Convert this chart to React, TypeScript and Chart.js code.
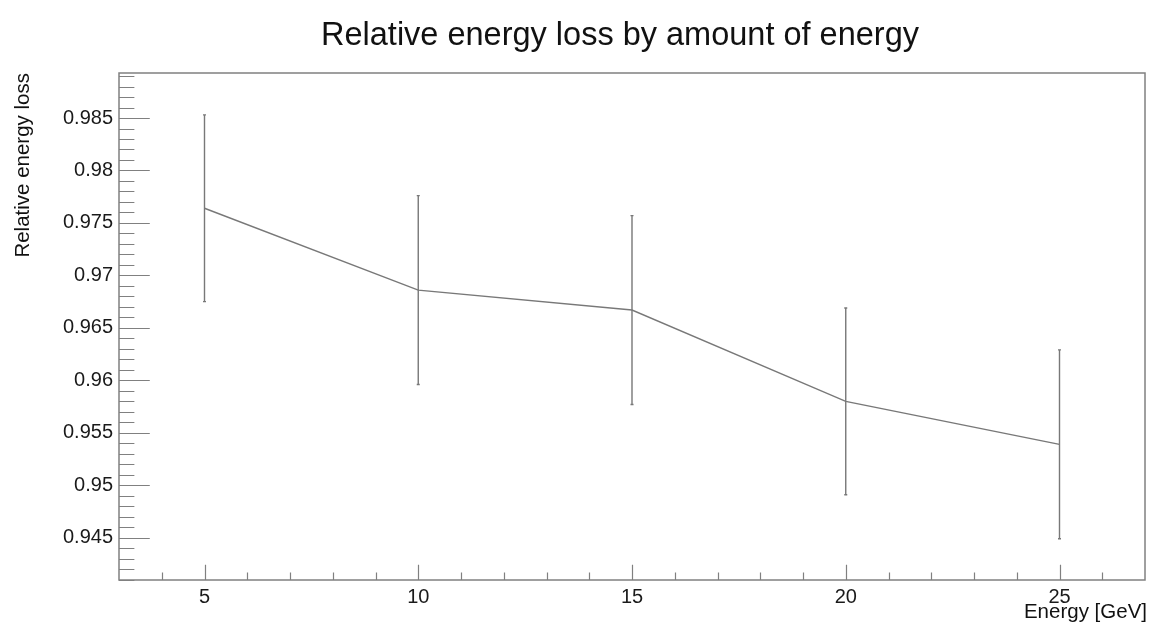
import { useEffect, useRef } from 'react';
import { Chart, registerables } from 'chart.js';

Chart.register(...registerables);

const FONT = '"Liberation Sans", Arial, Helvetica, sans-serif';

// Data
const energies = [5, 10, 15, 20, 25];
const lossValues = [0.9764, 0.9686, 0.9667, 0.958, 0.9539];
const lossErrors = [0.0089, 0.009, 0.009, 0.0089, 0.009];

// Axes
const xMajorTicks = [5, 10, 15, 20, 25];
const yMajorTicks = [0.945, 0.95, 0.955, 0.96, 0.965, 0.97, 0.975, 0.98, 0.985];
const xRange = [3, 27];
const yRange = [0.94097, 0.98929];
const xMinorStep = 1;
const yMinorStep = 0.001;

const titleText = 'Relative energy loss by amount of energy';
const xTitle = 'Energy [GeV]';
const yTitle = 'Relative energy loss';

const LINE_COLOR = '#787878';
const AXIS_COLOR = '#808080';

export default function App() {
  const ref = useRef<HTMLCanvasElement>(null);

  useEffect(() => {
    if (!ref.current) return;

    const rootStyle = {
      id: 'rootStyle',
      afterDatasetsDraw(chart: any) {
        const ctx = chart.ctx;
        const xs = chart.scales.x;
        const ys = chart.scales.y;
        ctx.save();
        ctx.strokeStyle = LINE_COLOR;
        ctx.lineWidth = 1.4;
        energies.forEach((e, i) => {
          const px = xs.getPixelForValue(e);
          const top = ys.getPixelForValue(lossValues[i] + lossErrors[i]);
          const bot = ys.getPixelForValue(lossValues[i] - lossErrors[i]);
          ctx.beginPath();
          ctx.moveTo(px, top);
          ctx.lineTo(px, bot);
          ctx.moveTo(px - 1.5, top);
          ctx.lineTo(px + 1.5, top);
          ctx.moveTo(px - 1.5, bot);
          ctx.lineTo(px + 1.5, bot);
          ctx.stroke();
        });
        ctx.restore();
      },
      afterDraw(chart: any) {
        const ctx = chart.ctx;
        const { left, right, top, bottom } = chart.chartArea;
        const xs = chart.scales.x;
        const ys = chart.scales.y;
        ctx.save();
        // frame
        ctx.strokeStyle = AXIS_COLOR;
        ctx.lineWidth = 1.5;
        ctx.strokeRect(left, top, right - left, bottom - top);

        ctx.lineWidth = 1.2;
        ctx.beginPath();
        // y ticks
        const yMajLen = 0.03 * (right - left);
        const yMinLen = yMajLen / 2;
        const nY = Math.round((yRange[1] - yRange[0]) / yMinorStep) + 2;
        const yStart = Math.ceil(yRange[0] / yMinorStep - 1e-6) * yMinorStep;
        for (let k = 0; k < nY; k++) {
          const v = yStart + k * yMinorStep;
          if (v > yRange[1]) break;
          const isMajor = yMajorTicks.some((m) => Math.abs(m - v) < 1e-7);
          const py = Math.round(ys.getPixelForValue(v)) + 0.5;
          ctx.moveTo(left, py);
          ctx.lineTo(left + (isMajor ? yMajLen : yMinLen), py);
        }
        // x ticks
        const xMajLen = 0.03 * (bottom - top);
        const xMinLen = xMajLen / 2;
        for (let v = Math.ceil(xRange[0]); v <= xRange[1]; v += xMinorStep) {
          if (v <= xRange[0] || v >= xRange[1]) continue;
          const isMajor = xMajorTicks.includes(v);
          const px = Math.round(xs.getPixelForValue(v)) + 0.5;
          ctx.moveTo(px, bottom);
          ctx.lineTo(px, bottom - (isMajor ? xMajLen : xMinLen));
        }
        ctx.stroke();

        // titles
        ctx.fillStyle = '#111';
        ctx.font = `32.5px ${FONT}`;
        ctx.textAlign = 'center';
        ctx.textBaseline = 'alphabetic';
        ctx.fillText(titleText, 620, 45);

        ctx.font = `20.5px ${FONT}`;
        ctx.textAlign = 'right';
        ctx.fillText(xTitle, 1147, 618);

        ctx.translate(29, top);
        ctx.rotate(-Math.PI / 2);
        ctx.textAlign = 'right';
        ctx.fillText(yTitle, 0, 0);
        ctx.restore();
      },
    };

    const chart = new Chart(ref.current, {
      type: 'line',
      data: {
        datasets: [
          {
            data: energies.map((x, i) => ({ x, y: lossValues[i] })),
            borderColor: LINE_COLOR,
            borderWidth: 1.4,
            pointRadius: 0,
            fill: false,
            tension: 0,
          },
        ],
      },
      options: {
        animation: false,
        responsive: false,
        devicePixelRatio: 1,
        layout: { padding: { top: 73, right: 5, left: 0, bottom: 0 } },
        plugins: {
          legend: { display: false },
          title: { display: false },
          tooltip: { enabled: false },
        },
        scales: {
          x: {
            type: 'linear',
            min: xRange[0],
            max: xRange[1],
            afterBuildTicks: (s: any) => {
              s.ticks = xMajorTicks.map((v) => ({ value: v }));
            },
            afterFit: (s: any) => {
              s.height = 48;
            },
            grid: { display: false, drawTicks: false },
            border: { display: false },
            ticks: {
              font: { family: FONT, size: 20 },
              color: '#1a1a1a',
              padding: 5,
              maxRotation: 0,
              autoSkip: false,
              callback: (v: any) => String(v),
            },
          },
          y: {
            type: 'linear',
            min: yRange[0],
            max: yRange[1],
            afterBuildTicks: (s: any) => {
              s.ticks = yMajorTicks.map((v) => ({ value: v }));
            },
            afterFit: (s: any) => {
              s.width = 119;
            },
            grid: { display: false, drawTicks: false },
            border: { display: false },
            ticks: {
              font: { family: FONT, size: 20 },
              color: '#1a1a1a',
              padding: 6,
              autoSkip: false,
              callback: (v: any) => String(parseFloat(Number(v).toFixed(4))),
            },
          },
        },
      },
      plugins: [rootStyle],
    });

    return () => chart.destroy();
  }, []);

  return (
    <div style={{ position: 'fixed', left: 0, top: 0, width: 1150, height: 628, background: '#fff' }}>
      <canvas ref={ref} width={1150} height={628} style={{ display: 'block' }} />
    </div>
  );
}
